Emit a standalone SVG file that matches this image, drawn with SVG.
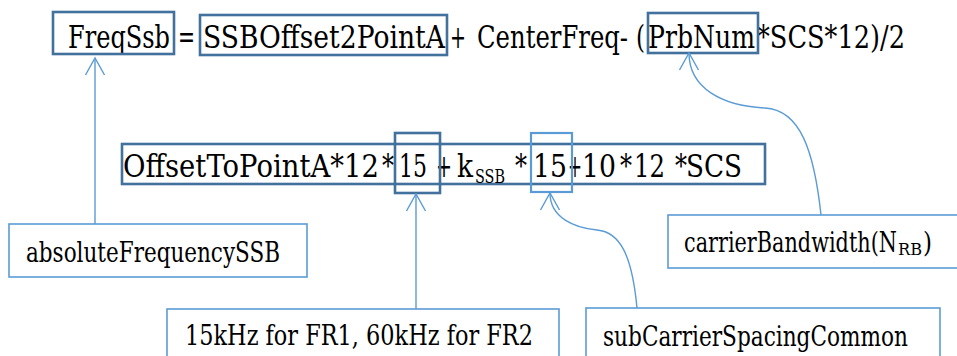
<svg xmlns="http://www.w3.org/2000/svg" width="957" height="356" viewBox="0 0 957 356">
  <style>
    text { font-family: "DejaVu Serif", "Liberation Serif", serif; fill: #000; }
    .eq { font-size: 31px; }
    .sub { font-size: 18px; }
    .lbl { font-size: 27px; }
    .lsub { font-size: 17px; }
    .dark { fill: none; stroke: #41719C; stroke-width: 2.6; }
    .light { fill: none; stroke: #5B9BD5; stroke-width: 2.2; }
    .box { fill: #fff; stroke: #5B9BD5; stroke-width: 1.6; }
    .conn { fill: none; stroke: #5B9BD5; stroke-width: 1.4; }
    .head { fill: none; stroke: #5B9BD5; stroke-width: 1.4; }
  </style>
  <defs>
    <marker id="open-arrow" markerUnits="userSpaceOnUse" viewBox="-20 -12 22 24" refX="0" refY="0" markerWidth="22" markerHeight="24" orient="auto">
      <path class="head" d="M-17,-9.5 L0,0 L-17,9.5"/>
    </marker>
  </defs>

  <rect width="957" height="356" fill="#fff"/>

  <!-- main formula: each term is narrowed horizontally to a Times-like width -->
  <g id="formula-top">
    <text class="eq" transform="translate(68,48) scale(0.79,1)" textLength="129.1" lengthAdjust="spacingAndGlyphs">FreqSsb</text>
    <text class="eq" transform="translate(178,48) scale(0.65,1)" textLength="26.2" lengthAdjust="spacingAndGlyphs">=</text>
    <text class="eq" transform="translate(203,48) scale(0.815,1)" textLength="296.9" lengthAdjust="spacingAndGlyphs">SSBOffset2PointA</text>
    <text class="eq" transform="translate(450,48) scale(0.62,1)" textLength="25.8" lengthAdjust="spacingAndGlyphs">+</text>
    <text class="eq" transform="translate(477,48) scale(0.8,1)" textLength="188.8" lengthAdjust="spacingAndGlyphs">CenterFreq-</text>
    <text class="eq" transform="translate(636,48) scale(0.75,1)" textLength="12" lengthAdjust="spacingAndGlyphs">(</text>
    <text class="eq" transform="translate(648,48) scale(0.83,1)" textLength="128.9" lengthAdjust="spacingAndGlyphs">PrbNum</text>
    <text class="eq" transform="translate(757,48) scale(0.85,1)" textLength="174.1" lengthAdjust="spacingAndGlyphs">*SCS*12)/2</text>
    <rect id="box-freqssb" class="dark" x="53" y="12" width="121" height="42"/>
    <rect id="box-ssboffset" class="dark" x="200" y="15" width="247" height="40"/>
    <rect id="box-prbnum" class="dark" x="648" y="13" width="110" height="40"/>
  </g>

  <!-- expansion of SSBOffset2PointA -->
  <g id="formula-offset">
    <rect class="dark" x="122" y="144" width="643" height="40"/>
    <text class="eq" transform="translate(123,177) scale(0.88,1)" textLength="290.9" lengthAdjust="spacingAndGlyphs">OffsetToPointA*12</text>
    <text class="eq" transform="translate(382,177) scale(0.77,1)" textLength="15.6" lengthAdjust="spacingAndGlyphs">*</text>
    <text class="eq" transform="translate(399,177) scale(0.71,1)" textLength="39.4" lengthAdjust="spacingAndGlyphs">15</text>
    <text class="eq" transform="translate(436,177) scale(0.62,1)" textLength="25.8" lengthAdjust="spacingAndGlyphs">+</text>
    <text class="eq" transform="translate(457,177) scale(0.85,1)" textLength="18.8" lengthAdjust="spacingAndGlyphs">k</text>
    <text class="sub" transform="translate(475,183) scale(0.85,1)" textLength="35.3" lengthAdjust="spacingAndGlyphs">SSB</text>
    <text class="eq" transform="translate(515,177) scale(0.77,1)" textLength="15.6" lengthAdjust="spacingAndGlyphs">*</text>
    <text class="eq" transform="translate(533,177) scale(0.86,1)" textLength="39.5" lengthAdjust="spacingAndGlyphs">15</text>
    <text class="eq" transform="translate(568,177) scale(0.54,1)" textLength="25.9" lengthAdjust="spacingAndGlyphs">+</text>
    <text class="eq" transform="translate(582,177) scale(0.86,1)" textLength="39.5" lengthAdjust="spacingAndGlyphs">10</text>
    <text class="eq" transform="translate(620,177) scale(0.77,1)" textLength="15.6" lengthAdjust="spacingAndGlyphs">*</text>
    <text class="eq" transform="translate(634,177) scale(0.79,1)" textLength="39.2" lengthAdjust="spacingAndGlyphs">12</text>
    <text class="eq" transform="translate(675,177) scale(0.77,1)" textLength="15.6" lengthAdjust="spacingAndGlyphs">*</text>
    <text class="eq" transform="translate(686,177) scale(0.91,1)" textLength="61.5" lengthAdjust="spacingAndGlyphs">SCS</text>
    <rect id="box-15a" class="dark" x="395" y="133" width="45" height="60"/>
    <rect id="box-15b" class="light" x="531" y="133" width="41" height="59"/>
  </g>

  <!-- connectors -->
  <g id="connectors">
    <path class="conn" d="M95,224 L95,58" marker-end="url(#open-arrow)"/>
    <path class="conn" d="M416,309 L416,194" marker-end="url(#open-arrow)"/>
    <path class="conn" d="M637,308 C632,255 620,232 597,230 C575,228 550,218 550,193" marker-end="url(#open-arrow)"/>
    <path class="conn" d="M821,215 C814,150 800,110 765,108 C722,106 689,88 689,53" marker-end="url(#open-arrow)"/>
  </g>

  <!-- parameter labels -->
  <g id="node-absfreq">
    <rect class="box" x="9" y="224" width="298" height="53"/>
    <text class="lbl" transform="translate(26,262) scale(0.79,1)" textLength="321.5" lengthAdjust="spacingAndGlyphs">absoluteFrequencySSB</text>
  </g>
  <g id="node-carrierbw">
    <rect class="box" x="668" y="215" width="300" height="53"/>
    <text class="lbl" transform="translate(684,252) scale(0.78,1)" textLength="273" lengthAdjust="spacingAndGlyphs">carrierBandwidth(N</text>
    <text class="lsub" x="898" y="255" textLength="24" lengthAdjust="spacingAndGlyphs">RB</text>
    <text class="lbl" transform="translate(923,252) scale(0.86,1)" textLength="10.5" lengthAdjust="spacingAndGlyphs">)</text>
  </g>
  <g id="node-scs-fr">
    <rect class="box" x="167" y="309" width="392" height="60"/>
    <text class="lbl" transform="translate(185,345) scale(0.845,1)" textLength="411.8" lengthAdjust="spacingAndGlyphs">15kHz for FR1, 60kHz for FR2</text>
  </g>
  <g id="node-scs-common">
    <rect class="box" x="586" y="308" width="354" height="60"/>
    <text class="lbl" transform="translate(603,346) scale(0.83,1)" textLength="367.5" lengthAdjust="spacingAndGlyphs">subCarrierSpacingCommon</text>
  </g>
</svg>
